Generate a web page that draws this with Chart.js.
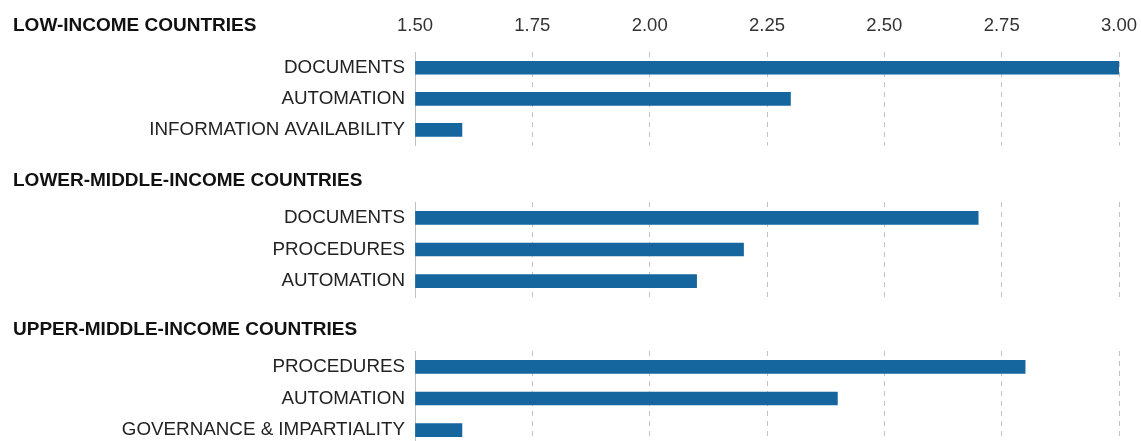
<!DOCTYPE html>
<html>
<head>
<meta charset="utf-8">
<script src="https://cdn.jsdelivr.net/npm/chart.js@4.4.0/dist/chart.umd.min.js"></script>
<style>
  html, body { margin: 0; padding: 0; background: #fff; overflow: hidden; }
  #wrap { position: relative; width: 1141px; height: 441px; }
  canvas { position: absolute; left: 0; }
</style>
</head>
<body>
<div id="wrap">
  <canvas id="c1" width="1141" height="148" style="top:0px"></canvas>
  <canvas id="c2" width="1141" height="150" style="top:148px"></canvas>
  <canvas id="c3" width="1141" height="150" style="top:298px"></canvas>
</div>
<script>
// data
const groupTitles = ['LOW-INCOME COUNTRIES', 'LOWER-MIDDLE-INCOME COUNTRIES', 'UPPER-MIDDLE-INCOME COUNTRIES'];
const lowLabels = ['DOCUMENTS', 'AUTOMATION', 'INFORMATION AVAILABILITY'];
const lowValues = [3.00, 2.30, 1.60];
const lowerMidLabels = ['DOCUMENTS', 'PROCEDURES', 'AUTOMATION'];
const lowerMidValues = [2.70, 2.20, 2.10];
const upperMidLabels = ['PROCEDURES', 'AUTOMATION', 'GOVERNANCE & IMPARTIALITY'];
const upperMidValues = [2.80, 2.40, 1.60];
const xMin = 1.5, xMax = 3.0, xStep = 0.25;

const BAR = '#15659e';
const GRID = '#c2c2c2';
const SANS = '"Liberation Sans", Arial, sans-serif';

// draws the bold group title in the top-left of each canvas
const groupHeader = {
  id: 'groupHeader',
  afterDraw(chart, args, opts) {
    const ctx = chart.ctx;
    ctx.save();
    ctx.font = 'bold 19px ' + SANS;
    ctx.fillStyle = '#111';
    ctx.textAlign = 'left';
    ctx.textBaseline = 'middle';
    ctx.fillText(opts.text, 13, opts.y);
    ctx.restore();
  }
};

function makeChart(id, title, titleY, labels, values, showTicks, pad) {
  return new Chart(document.getElementById(id), {
    type: 'bar',
    data: {
      labels: labels,
      datasets: [{
        data: values,
        base: xMin,
        backgroundColor: BAR,
        barThickness: 13
      }]
    },
    options: {
      indexAxis: 'y',
      responsive: false,
      animation: false,
      layout: { padding: pad },
      plugins: {
        legend: { display: false },
        tooltip: { enabled: false },
        groupHeader: { text: title, y: titleY }
      },
      scales: {
        x: {
          position: 'top',
          min: xMin,
          max: xMax,
          ticks: {
            display: showTicks,
            stepSize: xStep,
            padding: 15,
            color: '#333',
            font: { family: SANS, size: 18.5 },
            callback: v => Number(v).toFixed(2)
          },
          grid: { color: GRID, lineWidth: 1, drawTicks: false },
          border: { display: false, dash: [5, 5] },
          afterFit(scale) {
            scale.paddingLeft = 0;
            scale.paddingRight = 0;
          }
        },
        y: {
          ticks: {
            padding: 10,
            color: '#222',
            font: { family: SANS, size: 18.8 }
          },
          grid: { display: false, drawTicks: false },
          border: { display: true, color: GRID, width: 1 },
          afterFit(scale) {
            scale.width = 415;
            scale.paddingTop = 0;
            scale.paddingBottom = 0;
          }
        }
      }
    },
    plugins: [groupHeader]
  });
}

makeChart('c1', groupTitles[0], 26, lowLabels, lowValues, true, { top: 0, bottom: 2.5, left: 0, right: 22 });
makeChart('c2', groupTitles[1], 33, lowerMidLabels, lowerMidValues, false, { top: 54, bottom: 1, left: 0, right: 22 });
makeChart('c3', groupTitles[2], 32, upperMidLabels, upperMidValues, false, { top: 53, bottom: 2, left: 0, right: 22 });
</script>
</body>
</html>
